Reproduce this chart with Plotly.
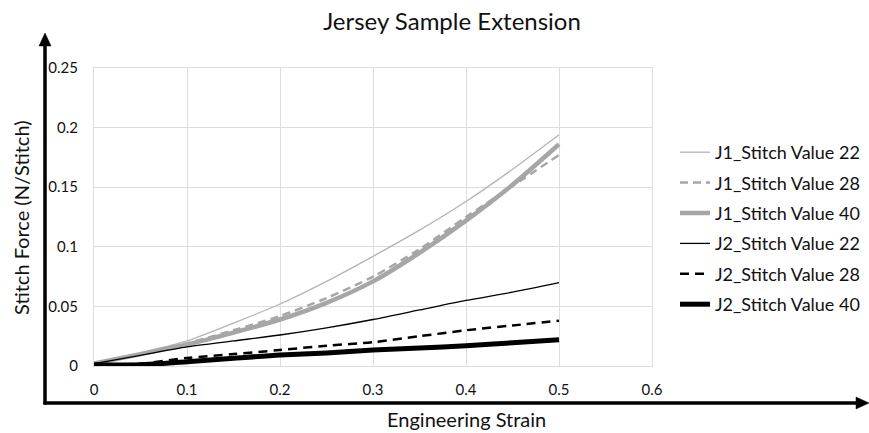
import plotly.graph_objects as go

strain = [0, 0.05, 0.1, 0.15, 0.2, 0.25, 0.3, 0.35, 0.4, 0.45, 0.5]
j1_22 = [0.002, 0.011, 0.021, 0.036, 0.052, 0.071, 0.092, 0.114, 0.138, 0.165, 0.194]
j1_28 = [0.002, 0.010, 0.019, 0.030, 0.042, 0.057, 0.075, 0.098, 0.125, 0.151, 0.177]
j1_40 = [0.002, 0.010, 0.018, 0.028, 0.039, 0.053, 0.071, 0.095, 0.122, 0.152, 0.186]
j2_22 = [0.002, 0.009, 0.016, 0.021, 0.026, 0.032, 0.039, 0.047, 0.055, 0.062, 0.070]
j2_28 = [0.001, 0.002, 0.0067, 0.010, 0.0134, 0.017, 0.020, 0.025, 0.030, 0.034, 0.038]
j2_40 = [0.001, 0.001, 0.0036, 0.0065, 0.0092, 0.011, 0.0134, 0.015, 0.017, 0.0195, 0.022]

names = ["J1_Stitch Value 22", "J1_Stitch Value 28", "J1_Stitch Value 40",
         "J2_Stitch Value 22", "J2_Stitch Value 28", "J2_Stitch Value 40"]
series = [j1_22, j1_28, j1_40, j2_22, j2_28, j2_40]
styles = [
    dict(color="#B4B4B4", width=1.3, dash="solid"),
    dict(color="#A6A6A6", width=2.5, dash="8px,5px"),
    dict(color="#A6A6A6", width=4.5, dash="solid"),
    dict(color="#000000", width=1.3, dash="solid"),
    dict(color="#000000", width=2.5, dash="9px,6px"),
    dict(color="#000000", width=5, dash="solid"),
]

FONT = "Lato, 'Open Sans', sans-serif"
W, H = 869, 433
L, R, T, B = 94, 217, 68, 67
pw, ph = W - L - R, H - T - B

def px(xp):
    return (xp - L) / pw

def py(yp):
    return (H - B - yp) / ph

fig = go.Figure()
for i, (n, s, st) in enumerate(zip(names, series, styles)):
    fig.add_trace(go.Scatter(x=strain, y=s, mode="lines", name=n,
                             line=dict(shape="spline", smoothing=0.8, **st),
                             legendgroup=f"g{i}"))

shapes = []
ax_x, ax_y = 45, 403
shapes.append(dict(type="line", xref="paper", yref="paper", x0=px(ax_x), y0=py(ax_y + 1.5),
                   x1=px(ax_x), y1=py(44), line=dict(color="black", width=3.5)))
shapes.append(dict(type="line", xref="paper", yref="paper", x0=px(ax_x - 1.5), y0=py(ax_y),
                   x1=px(858), y1=py(ax_y), line=dict(color="black", width=3.5)))
shapes.append(dict(type="path", xref="paper", yref="paper",
                   path=f"M {px(ax_x-6)} {py(46)} L {px(ax_x)} {py(33)} L {px(ax_x+6)} {py(46)} Z",
                   fillcolor="black", line=dict(color="black", width=0.5)))
shapes.append(dict(type="path", xref="paper", yref="paper",
                   path=f"M {px(856)} {py(ax_y-6)} L {px(869)} {py(ax_y)} L {px(856)} {py(ax_y+6)} Z",
                   fillcolor="black", line=dict(color="black", width=0.5)))

annotations = [
    dict(text="Stitch Force (N/Stitch)", xref="paper", yref="paper", x=px(21), y=py(217),
         xanchor="center", yanchor="middle",
         textangle=-90, showarrow=False, font=dict(family=FONT, size=20, color="#111")),
    dict(text="Engineering Strain", xref="paper", yref="paper", x=px(466), y=py(419),
         xanchor="center", yanchor="middle",
         showarrow=False, font=dict(family=FONT, size=20, color="#111")),
]

fig.update_layout(
    width=W, height=H,
    margin=dict(l=L, r=R, t=T, b=B, autoexpand=False),
    paper_bgcolor="white", plot_bgcolor="white",
    title=dict(text="Jersey Sample Extension", xref="container", x=452 / W, xanchor="center",
               yref="container", y=1 - 22 / H, yanchor="middle",
               font=dict(family=FONT, size=24, color="#111")),
    font=dict(family=FONT, color="#111"),
    showlegend=True,
    legend=dict(x=px(675), y=py(134), xanchor="left", yanchor="top",
                font=dict(family=FONT, size=18, color="#111"),
                tracegroupgap=4, bgcolor="rgba(0,0,0,0)"),
    shapes=shapes,
    annotations=annotations,
)
fig.update_xaxes(range=[0, 0.6], tickvals=[0, 0.1, 0.2, 0.3, 0.4, 0.5, 0.6],
                 ticktext=["0", "0.1", "0.2", "0.3", "0.4", "0.5", "0.6"],
                 showgrid=True, gridcolor="#DDDDDD", gridwidth=1, zeroline=False,
                 showline=True, linecolor="#DDDDDD", linewidth=1, mirror=True,
                 ticks="", ticklabelstandoff=10, tickfont=dict(family=FONT, size=15, color="#111"))
fig.update_yaxes(range=[0, 0.25], tickvals=[0, 0.05, 0.1, 0.15, 0.2, 0.25],
                 ticktext=["0", "0.05", "0.1", "0.15", "0.2", "0.25"],
                 showgrid=True, gridcolor="#DDDDDD", gridwidth=1, zeroline=False,
                 showline=True, linecolor="#DDDDDD", linewidth=1, mirror=True,
                 ticks="", ticklabelstandoff=12, tickfont=dict(family=FONT, size=15, color="#111"))

fig.write_html("out.html")
